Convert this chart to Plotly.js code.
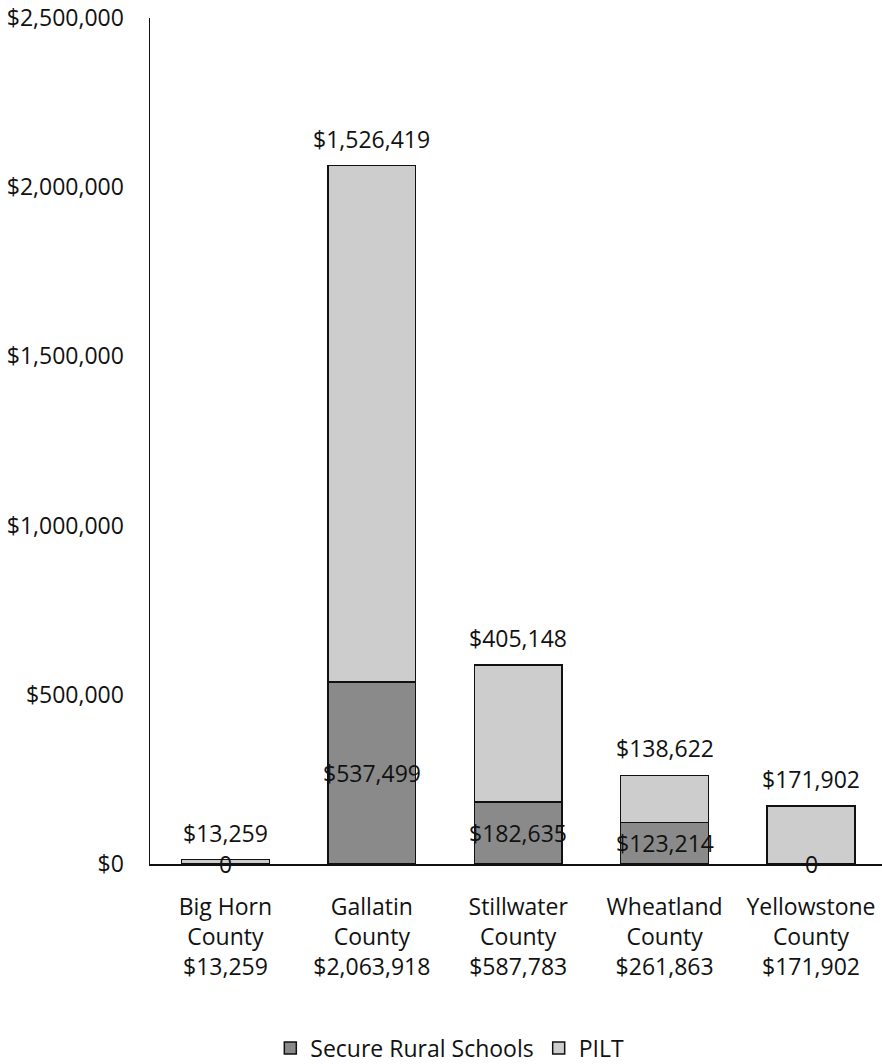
<!DOCTYPE html>
<html>
<head>
<meta charset="utf-8">
<script src="https://cdn.plot.ly/plotly-3.0.1.min.js"></script>
<style>
  html, body { margin: 0; padding: 0; background: #ffffff; }
  #chart { width: 882px; height: 1064px; }
</style>
</head>
<body>
<div id="chart"></div>
<script>
// ---- Data ----
const counties = ["Big Horn<br>County", "Gallatin<br>County", "Stillwater<br>County", "Wheatland<br>County", "Yellowstone<br>County"];
const totalLabels = ["$13,259", "$2,063,918", "$587,783", "$261,863", "$171,902"];
const srsValues = [0, 537499, 182635, 123214, 0];
const piltValues = [13259, 1526419, 405148, 138622, 171902];
const seriesNames = ["Secure Rural Schools", "PILT"];
const yTickValues = [0, 500000, 1000000, 1500000, 2000000, 2500000];
const yTickLabels = ["$0", "$500,000", "$1,000,000", "$1,500,000", "$2,000,000", "$2,500,000"];

const FONT = "Open Sans, Noto Sans, sans-serif";
const FS = 23;

function money(v) { return v === 0 ? "0" : "$" + v.toLocaleString("en-US"); }

const xcat = counties.map((c, i) => c + "<br>" + totalLabels[i]);

const traces = [
  {
    type: "bar", name: seriesNames[0], x: xcat, y: srsValues,
    marker: { color: "#8a8a8a", line: { color: "#111111", width: 1.5 } },
    width: 0.6, hoverinfo: "none"
  },
  {
    type: "bar", name: seriesNames[1], x: xcat, y: piltValues,
    marker: { color: "#cdcdcd", line: { color: "#111111", width: 1.5 } },
    width: 0.6, hoverinfo: "none"
  }
];

const annotations = [];
xcat.forEach((c, i) => {
  // SRS label centred in its segment
  annotations.push({
    x: c, y: srsValues[i] / 2, xref: "x", yref: "y",
    text: money(srsValues[i]), showarrow: false,
    yanchor: "middle", xanchor: "center",
    font: { family: FONT, size: FS, color: "#111111" }
  });
  // PILT label above the stack
  annotations.push({
    x: c, y: srsValues[i] + piltValues[i], xref: "x", yref: "y",
    text: money(piltValues[i]), showarrow: false,
    yanchor: "bottom", xanchor: "center", yshift: 9,
    font: { family: FONT, size: FS, color: "#111111" }
  });
});

const layout = {
  width: 882, height: 1064,
  margin: { l: 150, r: 0, t: 18, b: 200 },
  paper_bgcolor: "#ffffff", plot_bgcolor: "#ffffff",
  barmode: "stack",
  showlegend: true,
  font: { family: FONT, size: FS, color: "#111111" },
  xaxis: {
    type: "category",
    range: [-0.515, 4.485],
    showline: true, linecolor: "#111111", linewidth: 1.5,
    showgrid: false, zeroline: false,
    ticks: "", ticklabelstandoff: 22,
    tickfont: { family: FONT, size: FS, color: "#111111" },
    fixedrange: true
  },
  yaxis: {
    range: [0, 2500000],
    tickmode: "array",
    tickvals: yTickValues,
    ticktext: yTickLabels,
    showline: true, linecolor: "#111111", linewidth: 1.5,
    showgrid: false, zeroline: false,
    ticks: "", ticklabelstandoff: 20,
    tickfont: { family: FONT, size: FS, color: "#111111" },
    fixedrange: true
  },
  legend: {
    orientation: "h",
    xref: "container", yref: "container",
    x: 0.51, y: 0.015, xanchor: "center", yanchor: "middle",
    font: { family: FONT, size: FS, color: "#111111" },
    itemwidth: 30, tracegroupgap: 0,
    traceorder: "normal"
  },
  annotations: annotations
};

Plotly.newPlot("chart", traces, layout, { displayModeBar: false, staticPlot: true });
</script>
</body>
</html>
